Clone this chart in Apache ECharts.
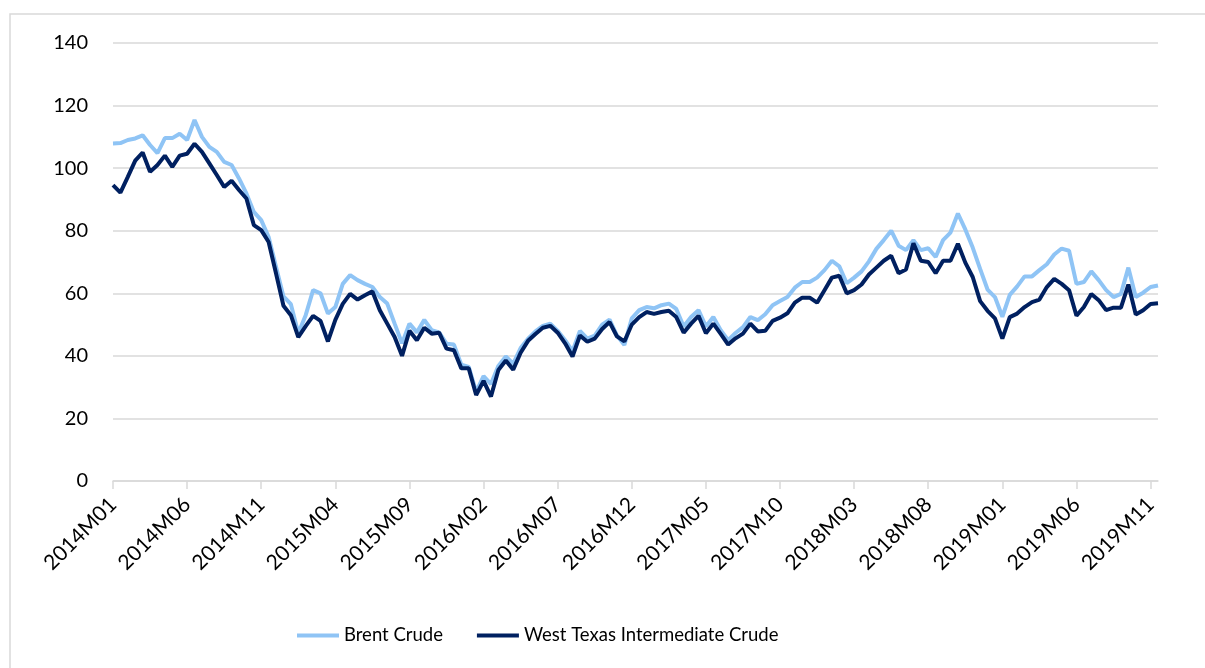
<!DOCTYPE html>
<html>
<head>
<meta charset="utf-8">
<title>Brent vs WTI</title>
<script src="https://cdn.jsdelivr.net/npm/echarts@6/dist/echarts.min.js"></script>
<style>
  html, body { margin: 0; padding: 0; background: #fff; }
  #chart { width: 1205px; height: 668px; }
</style>
</head>
<body>
<div id="chart"></div>
<script>
// semi-monthly points (1st and 16th of each month), 2014M01 .. 2019M11
const years = [2014, 2015, 2016, 2017, 2018, 2019];
const tickLabels = ['2014M01', '2014M06', '2014M11', '2015M04', '2015M09', '2016M02', '2016M07',
  '2016M12', '2017M05', '2017M10', '2018M03', '2018M08', '2019M01', '2019M06', '2019M11'];

const brent = [
  // 2014
  107.9, 108.0, 109.0, 109.5, 110.5, 107.4, 104.8, 109.6, 109.6, 111.0, 109.0, 115.4,
  110.0, 106.8, 105.2, 102.0, 101.0, 96.7, 91.9, 86.0, 83.4, 78.0, 68.4, 59.0,
  // 2015
  56.5, 47.2, 53.0, 61.0, 60.0, 53.5, 55.6, 63.0, 65.8, 64.2, 63.0, 62.0,
  58.8, 56.7, 50.3, 44.0, 50.3, 47.5, 51.5, 48.2, 47.5, 43.9, 43.6, 37.2,
  // 2016
  36.5, 28.5, 33.5, 31.0, 36.8, 39.8, 37.5, 42.5, 45.5, 47.8, 49.6, 50.3,
  48.0, 45.0, 41.5, 48.0, 45.5, 46.5, 50.0, 51.6, 46.5, 43.5, 52.0, 54.6,
  // 2017
  55.6, 55.2, 56.2, 56.7, 55.0, 49.4, 52.4, 54.6, 49.4, 52.4, 48.2, 45.0,
  47.3, 49.2, 52.4, 51.4, 53.3, 56.2, 57.5, 58.8, 61.8, 63.6, 63.6, 65.0,
  // 2018
  67.4, 70.4, 68.6, 63.2, 65.0, 67.0, 70.2, 74.2, 77.0, 80.0, 75.2, 73.8,
  77.0, 73.8, 74.4, 71.6, 77.0, 79.4, 85.5, 80.4, 74.6, 67.8, 61.2, 58.8,
  // 2019
  52.5, 59.5, 62.2, 65.4, 65.4, 67.4, 69.3, 72.4, 74.3, 73.6, 63.0, 63.6,
  67.0, 64.2, 61.0, 58.8, 59.8, 68.2, 58.8, 60.2, 62.0, 62.5
];

const wti = [
  // 2014
  94.6, 92.2, 97.2, 102.4, 105.0, 98.8, 101.0, 104.0, 100.4, 104.0, 104.6, 107.8,
  105.2, 101.5, 97.8, 94.0, 96.0, 93.0, 90.3, 81.8, 80.2, 76.4, 66.3, 56.0,
  // 2015
  53.0, 46.0, 49.5, 52.8, 51.2, 44.6, 51.5, 56.6, 59.8, 58.0, 59.4, 60.6,
  54.6, 50.3, 46.0, 40.0, 48.0, 45.0, 49.0, 47.1, 47.4, 42.3, 41.8, 36.0,
  // 2016
  36.0, 27.5, 32.0, 27.0, 35.5, 38.5, 35.6, 41.0, 44.8, 47.0, 49.0, 49.6,
  47.4, 44.0, 39.8, 46.5, 44.5, 45.5, 48.6, 50.8, 46.2, 44.6, 50.0, 52.4,
  // 2017
  54.0, 53.4, 54.0, 54.4, 52.4, 47.4, 50.3, 52.8, 47.2, 50.3, 47.0, 43.6,
  45.6, 47.1, 50.3, 47.8, 48.0, 51.2, 52.2, 53.6, 57.0, 58.6, 58.6, 57.0,
  // 2018
  61.0, 65.0, 65.6, 60.0, 61.0, 62.8, 66.0, 68.2, 70.4, 72.0, 66.4, 67.6,
  76.0, 70.4, 70.0, 66.4, 70.4, 70.4, 75.8, 69.8, 65.2, 57.5, 54.4, 52.0,
  // 2019
  45.5, 52.4, 53.5, 55.6, 57.2, 58.0, 62.0, 64.6, 63.0, 61.0, 52.8, 55.6,
  59.8, 57.8, 54.6, 55.4, 55.4, 62.8, 53.2, 54.6, 56.6, 56.8
];

const categories = [];
years.forEach(function (y) {
  for (let m = 1; m <= 12; m++) {
    const name = y + 'M' + (m < 10 ? '0' + m : m);
    categories.push(name, name + '-16');
  }
});
categories.length = brent.length;

const lineGrey = '#d9d9d9';
const font = 'Lato, "Open Sans", sans-serif';
const showTick = function (index, value) { return tickLabels.indexOf(value) !== -1; };

const chart = echarts.init(document.getElementById('chart'));
chart.setOption({
  animation: false,
  textStyle: { fontFamily: font },
  graphic: [{
    type: 'rect',
    shape: { x: 10, y: 14, width: 1400, height: 800 },
    style: { fill: 'none', stroke: lineGrey, lineWidth: 1.5 },
    silent: true
  }],
  grid: { left: 113, right: 47, top: 43, bottom: 187 },
  legend: {
    top: 621,
    left: 292,
    icon: 'rect',
    itemWidth: 42,
    itemHeight: 4,
    itemGap: 34,
    textStyle: { fontSize: 18.5, color: '#000', fontFamily: font },
    data: ['Brent Crude', 'West Texas Intermediate Crude']
  },
  xAxis: {
    type: 'category',
    data: categories,
    boundaryGap: false,
    axisLine: { lineStyle: { color: lineGrey, width: 1.5 } },
    axisTick: { show: true, interval: showTick, length: 8, lineStyle: { color: lineGrey, width: 1.5 } },
    axisLabel: { interval: showTick, rotate: 45, margin: 20, fontSize: 21, color: '#000', fontFamily: font },
    splitLine: { show: false }
  },
  yAxis: {
    type: 'value',
    min: 0,
    max: 140,
    interval: 20,
    axisLine: { show: false },
    axisTick: { show: false },
    axisLabel: { fontSize: 20, color: '#000', margin: 25, fontFamily: font },
    splitLine: { lineStyle: { color: lineGrey, width: 1.5 } }
  },
  series: [
    {
      name: 'Brent Crude',
      type: 'line',
      data: brent,
      symbol: 'none',
      lineStyle: { color: '#8fc4f5', width: 4 },
      itemStyle: { color: '#8fc4f5' }
    },
    {
      name: 'West Texas Intermediate Crude',
      type: 'line',
      data: wti,
      symbol: 'none',
      lineStyle: { color: '#002060', width: 4 },
      itemStyle: { color: '#002060' }
    }
  ]
});
</script>
</body>
</html>
